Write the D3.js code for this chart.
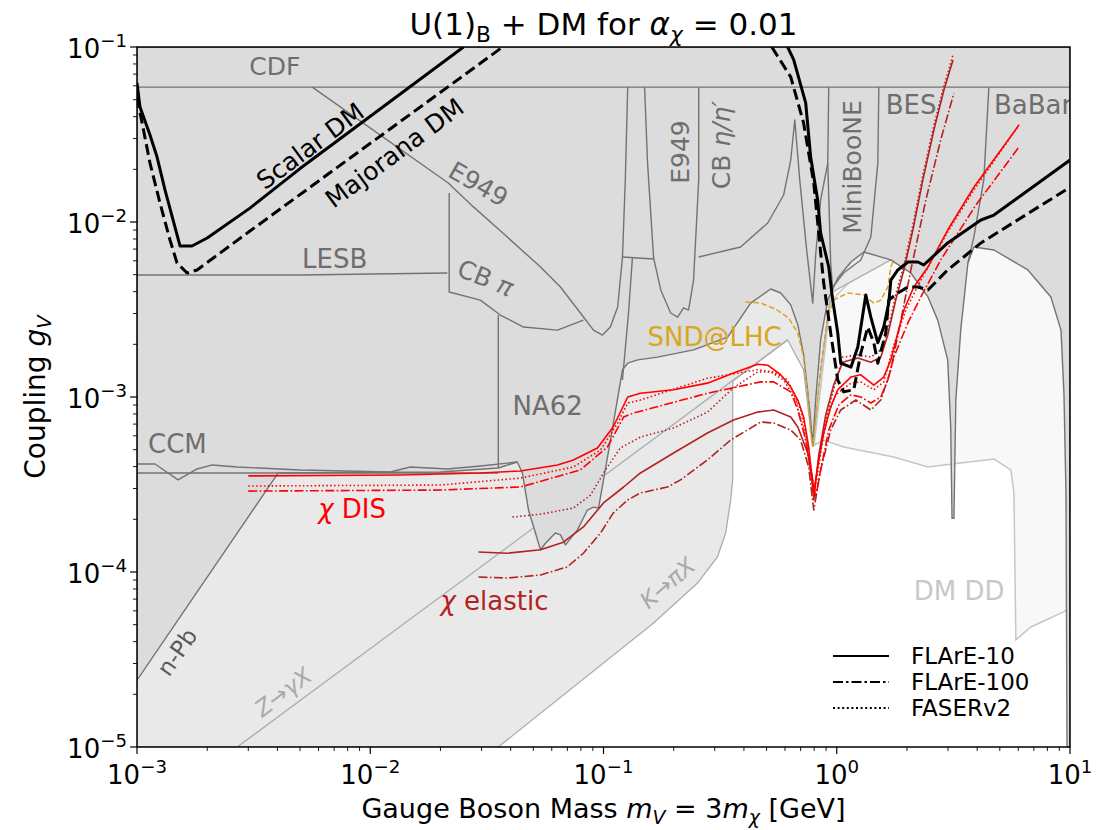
<!DOCTYPE html>
<html><head><meta charset="utf-8">
<script src="https://cdn.jsdelivr.net/npm/d3@7"></script>
<style>body{margin:0;background:#fff}text{font-family:"DejaVu Sans",sans-serif}</style>
</head><body>
<svg id="c" width="1096" height="830"></svg>
<script>
// ---------------- data (mass [GeV], coupling) ----------------
const xTickExps = [-3,-2,-1,0,1];
const yTickExps = [-5,-4,-3,-2,-1];
const legendNames = ["FLArE-10","FLArE-100","FASERv2"];

const darkRegion = [[1e-3,2.41e-5],[4.03e-3,3.68e-4],[2.0e-2,3.73e-4],[3.54e-2,3.93e-4],[4.27e-2,4.25e-4],[4.49e-2,3.68e-4],[4.77e-2,2.26e-4],[5.37e-2,1.34e-4],[5.64e-2,1.46e-4],[6.22e-2,1.67e-4],[6.54e-2,1.63e-4],[6.87e-2,1.43e-4],[7.73e-2,1.74e-4],[8.53e-2,2.26e-4],[9.06e-2,2.35e-4],[9.52e-2,2.32e-4],[0.1,3.36e-4],[0.109,6.48e-4],[0.1206,1.43e-3],[0.127,1.56e-3],[0.14,1.63e-3],[0.1706,1.69e-3],[0.2433,1.86e-3],[0.3405,2.2e-3],[0.4275,3.44e-3],[0.521,4.14e-3],[0.575,3.93e-3],[0.635,3.36e-3],[0.681,2.58e-3],[0.721,1.74e-3],[0.766,8.43e-4],[0.789,5.32e-4],[0.812,9.61e-4],[0.853,2.12e-3],[0.915,3.58e-3],[1.01,4.79e-3],[1.15,5.91e-3],[1.306,6.74e-3],[1.706,6.07e-3],[2.078,5.11e-3],[2.46,3.73e-3],[2.71,2.75e-3],[2.99,1.63e-3],[3.08,6.74e-4],[3.12,2.03e-4],[3.18,2.03e-4],[3.24,9.61e-4],[3.40,2.41e-3],[3.65,5.83e-3],[3.87,7.2e-3],[4.72,6.92e-3],[6.6,5.32e-3],[8.28,3.73e-3],[9.15,2.41e-3],[9.42,1.05e-3],[9.61,2.83e-4],[9.71,1e-5],[10,1e-5],[10,0.1],[1e-3,0.1]];

const lightRegion = [[1e-3,1e-5],[3.54e-2,1e-5],[0.164,5.11e-5],[0.253,8.65e-5],[0.308,1.22e-4],[0.334,1.67e-4],[0.351,2.58e-4],[0.358,3.36e-4],[0.358,1.23e-3],[0.616,2.12e-3],[0.721,1.43e-3],[0.773,6.48e-4],[0.789,5.18e-4],[0.837,1.1e-3],[0.942,3.93e-3],[1.706,6.07e-3],[1.706,0.1],[1e-3,0.1]];

const ddRegion = [[0.80,5.3e-4],[0.879,5.68e-4],[1.07,5.18e-4],[1.757,4.54e-4],[2.46,3.98e-4],[3.40,4.2e-4],[4.72,4.42e-4],[5.58,3.83e-4],[5.75,2.83e-4],[5.86,4.09e-5],[6.8,4.85e-5],[9.33,5.9e-5],[10,6.23e-5],[10,8e-3],[1.7,8e-3],[0.94,3.5e-3]];

const zLine = [[2.69e-3,1e-5],[0.616,2.12e-3]];

const cdfLine = [[1e-3,0.059],[10,0.059]];
const e949Diag = [[5.64e-3,0.059],[2.16e-2,0.0167],[2.77e-2,0.0122],[3.87e-2,8.2e-3],[5.37e-2,5.53e-3],[6.54e-2,4.25e-3],[7.96e-2,3.02e-3],[9.06e-2,2.41e-3],[9.9e-2,2.26e-3],[0.107,2.51e-3],[0.115,3.27e-3],[0.1206,6.31e-3],[0.124,0.0174],[0.127,0.059]];
const lesbLine = [[1e-3,4.98e-3],[5e-3,4.98e-3],[2.14e-2,5.11e-3]];
const cbPiLine = [[2.18e-2,0.01465],[2.18e-2,3.98e-3],[2.965e-2,3.58e-3],[3.61e-2,2.94e-3],[4.54e-2,2.51e-3],[6.35e-2,2.41e-3],[8.2e-2,2.75e-3]];
const na62Line = [[3.54e-2,2.94e-3],[3.54e-2,3.93e-4]];
const ccmWavy = [[1e-3,4.14e-4],[1.195e-3,4.14e-4],[1.5e-3,3.36e-4],[1.81e-3,3.88e-4],[2.1e-3,4.09e-4],[2.69e-3,3.98e-4],[5e-3,3.83e-4],[1.22e-2,3.73e-4],[1.485e-2,3.98e-4],[2.14e-2,3.88e-4],[2.965e-2,4.03e-4],[4.27e-2,4.25e-4]];
const ccmFlat = [[1e-3,3.68e-4],[3.54e-2,3.68e-4]];
const stripA = [[0.15,0.059],[0.1545,0.0217],[0.164,6.23e-3]];
const stripB = [[0.1206,6.31e-3],[0.164,6.15e-3]];
const stripC = [[0.133,6.23e-3],[0.128,3.02e-3],[0.1206,1.25e-3]];
const e949Big = [[0.164,6.23e-3],[0.176,4.09e-3],[0.194,3.02e-3],[0.2078,2.86e-3],[0.2205,3.23e-3],[0.2316,3.14e-3],[0.2433,4.66e-3],[0.256,0.0174],[0.256,0.059]];
const cbEtaLine = [[0.256,6.31e-3],[0.387,7.2e-3],[0.506,9.87e-3],[0.592,0.01427],[0.635,0.0226],[0.661,0.0383],[0.694,0.0174],[0.743,6.92e-3],[0.789,3.44e-3],[0.812,6.48e-3],[0.853,0.01336],[0.915,0.0217]];
const miniLeft = [[0.924,0.059],[0.915,0.0217],[0.942,5.83e-3],[0.961,4.09e-3]];
const miniRight = [[1.515,0.059],[1.5,0.0217],[1.40,8.2e-3],[1.268,6.07e-3],[1.07,5.11e-3],[0.942,4.09e-3]];
const besBabar = [[4.49,0.059],[4.27,0.0174],[3.87,8.2e-3],[3.65,5.83e-3]];

const scalarLeft = [[1e-3,0.0623],[1.03e-3,0.0454],[1.137e-3,0.0314],[1.219e-3,0.0235],[1.319e-3,0.0152],[1.53e-3,7.29e-3],[1.72e-3,7.29e-3],[2.0e-3,8.1e-3],[3.05e-3,0.012],[5e-3,0.0202],[1.345e-2,0.0539],[2.51e-2,0.1]];
const scalarRight = [[0.616,0.1],[0.654,0.0843],[0.736,0.0479],[0.773,0.0235],[0.828,0.01336],[0.853,8.65e-3],[0.924,5.53e-3],[0.961,3.58e-3],[1.01,2.32e-3],[1.04,1.56e-3],[1.15,1.48e-3],[1.231,1.93e-3],[1.332,3.83e-3],[1.40,2.86e-3],[1.50,2.04e-3],[1.59,2.51e-3],[1.671,3.44e-3],[1.706,4.66e-3],[1.828,5.32e-3],[2.018,5.91e-3],[2.228,5.91e-3],[2.36,5.68e-3],[2.99,7.59e-3],[4.15,0.01027],[4.72,0.01096],[10,0.0226]];
const majoranaLeft = [[1e-3,0.0518],[1.137e-3,0.0217],[1.255e-3,0.01284],[1.385e-3,7.89e-3],[1.485e-3,5.83e-3],[1.64e-3,5.11e-3],[1.81e-3,5.32e-3],[3.05e-3,8.88e-3],[8.2e-3,0.0232],[2.965e-2,0.0807],[3.69e-2,0.1]];
const majoranaRight = [[0.527,0.1],[0.5366,0.0961],[0.635,0.0674],[0.721,0.0368],[0.797,0.0167],[0.879,4.48e-3],[0.942,2.32e-3],[1.01,1.25e-3],[1.07,1.07e-3],[1.183,1.1e-3],[1.268,1.78e-3],[1.358,2.51e-3],[1.442,2.04e-3],[1.50,1.56e-3],[1.622,2.32e-3],[1.671,3.58e-3],[1.828,3.93e-3],[2.018,4.25e-3],[2.228,4.25e-3],[2.46,4.09e-3],[2.99,5.32e-3],[4.15,7.59e-3],[10,0.0158]];

const disSolid = [[3e-3,3.54e-4],[1.345e-2,3.58e-4],[2.965e-2,3.68e-4],[4.4e-2,3.78e-4],[6.35e-2,4.09e-4],[7.43e-2,4.37e-4],[9.42e-2,5.11e-4],[0.11,6.74e-4],[0.127,1.0e-3],[0.144,1.05e-3],[0.1997,1.1e-3],[0.279,1.2e-3],[0.361,1.37e-3],[0.458,1.54e-3],[0.506,1.52e-3],[0.575,1.34e-3],[0.635,1.14e-3],[0.681,9.61e-4],[0.721,7.69e-4],[0.758,5.18e-4],[0.797,2.83e-4],[0.828,3.98e-4],[0.879,6.23e-4],[0.942,8.77e-4],[1.01,1.1e-3],[1.15,1.3e-3],[1.268,1.34e-3],[1.442,1.17e-3],[1.59,1.3e-3],[1.706,1.63e-3],[1.828,2.32e-3],[1.94,3.14e-3],[2.14,4.25e-3],[2.46,5.53e-3],[2.99,9.0e-3],[3.87,0.0158],[6.04,0.0358]];
const disDotted = [[3e-3,3.1e-4],[2e-2,3.14e-4],[4.4e-2,3.44e-4],[7.43e-2,3.98e-4],[9.71e-2,4.98e-4],[0.115,7.1e-4],[0.127,9.24e-4],[0.144,9.61e-4],[0.279,1.28e-3],[0.458,1.43e-3],[0.5366,1.39e-3],[0.616,1.25e-3],[0.70,8.43e-4],[0.758,4.98e-4],[0.797,2.75e-4],[0.837,4.37e-4],[0.897,7.39e-4],[0.99,1.03e-3],[1.15,1.2e-3],[1.268,1.22e-3],[1.442,1.1e-3],[1.59,1.22e-3],[1.757,1.98e-3],[1.977,3.14e-3],[2.294,4.66e-3],[2.99,8.77e-3],[3.87,0.0152],[6.04,0.0358]];
const disDashDot = [[3e-3,2.9e-4],[2e-2,2.94e-4],[4.4e-2,3.06e-4],[7.96e-2,3.83e-4],[0.104,5.18e-4],[0.122,7.69e-4],[0.1345,8.1e-4],[0.279,1.05e-3],[0.472,1.22e-3],[0.5366,1.22e-3],[0.635,1.07e-3],[0.681,8.43e-4],[0.736,5.68e-4],[0.789,3.36e-4],[0.812,2.68e-4],[0.853,3.83e-4],[0.924,6.48e-4],[1.02,9.0e-4],[1.15,1.03e-3],[1.268,1.0e-3],[1.40,9.24e-4],[1.545,1.0e-3],[1.655,1.25e-3],[1.757,1.69e-3],[2.018,2.65e-3],[2.294,3.73e-3],[2.79,6.07e-3],[3.95,0.0125],[6.04,0.0268]];

const elSolid = [[2.91e-2,1.3e-4],[3.87e-2,1.28e-4],[5.37e-2,1.34e-4],[6.73e-2,1.48e-4],[8.2e-2,1.81e-4],[0.1,2.48e-4],[0.122,3.06e-4],[0.144,3.68e-4],[0.1997,4.79e-4],[0.279,6.23e-4],[0.361,7.39e-4],[0.458,8.2e-4],[0.5366,8.43e-4],[0.635,7.69e-4],[0.681,6.74e-4],[0.751,4.79e-4],[0.789,3.23e-4],[0.797,2.58e-4],[0.837,4.66e-4],[0.897,7.89e-4],[0.97,1.17e-3],[1.06,1.58e-3],[1.231,1.67e-3],[1.40,1.58e-3],[1.545,1.69e-3],[1.655,2.26e-3],[1.79,3.58e-3],[1.94,5.32e-3],[2.12,9.0e-3],[2.34,0.0174],[2.61,0.0336],[2.88,0.0568],[3.15,0.0843]];
const elDotted = [[4.07e-2,2.06e-4],[5.37e-2,2.14e-4],[7.43e-2,2.32e-4],[8.79e-2,2.75e-4],[0.102,3.83e-4],[0.118,5.11e-4],[0.144,5.9e-4],[0.1997,6.65e-4],[0.279,8.2e-4],[0.361,1.13e-3],[0.458,1.39e-3],[0.521,1.39e-3],[0.592,1.25e-3],[0.667,9.61e-4],[0.736,5.68e-4],[0.789,2.94e-4],[0.82,3.36e-4],[0.871,5.68e-4],[0.942,9.61e-4],[1.06,1.69e-3],[1.231,1.74e-3],[1.40,1.69e-3],[1.545,1.86e-3],[1.655,2.41e-3],[1.79,3.83e-3],[1.94,5.68e-3],[2.12,9.61e-3],[2.34,0.0186],[2.61,0.0358],[2.88,0.06],[3.15,0.09]];
const elDashDot = [[2.91e-2,9.36e-5],[3.87e-2,9.24e-5],[5.37e-2,9.61e-5],[7.0e-2,1.07e-4],[8.2e-2,1.28e-4],[9.71e-2,1.67e-4],[0.11,2.17e-4],[0.127,2.58e-4],[0.144,2.83e-4],[0.188,3.06e-4],[0.214,3.36e-4],[0.279,4.37e-4],[0.351,5.68e-4],[0.472,7.2e-4],[0.5366,7.1e-4],[0.635,6.48e-4],[0.70,5.68e-4],[0.758,3.98e-4],[0.797,2.26e-4],[0.853,3.83e-4],[0.942,6.48e-4],[1.04,8.43e-4],[1.207,9.61e-4],[1.40,8.43e-4],[1.545,9.61e-4],[1.706,1.43e-3],[1.883,2.75e-3],[2.078,5.32e-3],[2.41,0.01336],[2.79,0.0294],[3.18,0.0546]];

const sndLine = [[0.4066,3.49e-3],[0.472,3.44e-3],[0.547,3.18e-3],[0.622,2.83e-3],[0.681,2.32e-3],[0.721,1.69e-3],[0.751,1.05e-3],[0.773,6.23e-4],[0.789,5.18e-4],[0.812,7.39e-4],[0.853,1.48e-3],[0.915,2.86e-3],[0.97,3.58e-3],[1.115,3.93e-3],[1.306,3.83e-3],[1.442,3.44e-3],[1.545,3.58e-3],[1.655,4.25e-3],[1.706,5.53e-3],[1.757,6.07e-3]];

// ---------------- drawing ----------------
const L=137,R=1070,T=47,B=747;
const x = d3.scaleLog().domain([1e-3,10]).range([L,R]);
const y = d3.scaleLog().domain([1e-5,0.1]).range([B,T]);
const svg = d3.select('#c');
svg.append('rect').attr('width',1096).attr('height',830).attr('fill','#fff');
svg.append('defs').append('clipPath').attr('id','clip').append('rect')
  .attr('x',L).attr('y',T).attr('width',R-L).attr('height',B-T);
const g = svg.append('g').attr('clip-path','url(#clip)');
const line = d3.line().x(d=>x(d[0])).y(d=>y(d[1]));

const DARK='#dcdcdc', EDGE='#737373';
g.append('path').attr('d',line(ddRegion)+'Z').attr('fill','#f8f8f8').attr('stroke','#c6c6c6').attr('stroke-width',1.5);
g.append('path').attr('d',line(lightRegion)+'Z').attr('fill','#e9e9e9').attr('stroke','#adadad').attr('stroke-width',1.3);
g.append('path').attr('d',line(zLine)).attr('fill','none').attr('stroke','#adadad').attr('stroke-width',1.3);
g.append('path').attr('d',line(darkRegion)+'Z').attr('fill',DARK).attr('stroke',EDGE).attr('stroke-width',1.4).attr('stroke-linejoin','round');
[cdfLine,e949Diag,lesbLine,cbPiLine,na62Line,ccmWavy,ccmFlat,stripA,stripB,stripC,e949Big,cbEtaLine,miniLeft,miniRight,besBabar].forEach(d=>{
  g.append('path').attr('d',line(d)).attr('fill','none').attr('stroke',EDGE).attr('stroke-width',1.4).attr('stroke-linejoin','round');
});

// SND@LHC
g.append('path').attr('d',line(sndLine)).attr('fill','none').attr('stroke','#daa520').attr('stroke-width',1.5).attr('stroke-dasharray','5.5,2.5');

// sensitivity curves
const DOT='1.5,2.4', DASHDOT='9,2.4,1.6,2.4';
function curve(d,col,dash,w){
  const p=g.append('path').attr('d',line(d)).attr('fill','none').attr('stroke',col).attr('stroke-width',w||1.6).attr('stroke-linejoin','round');
  if(dash) p.attr('stroke-dasharray',dash);
}
curve(elSolid,'#b22222'); curve(elDotted,'#b22222',DOT); curve(elDashDot,'#b22222',DASHDOT);
curve(disSolid,'#ff0000'); curve(disDotted,'#ff0000',DOT); curve(disDashDot,'#ff0000',DASHDOT);
curve(scalarLeft,'#000',null,3); curve(scalarRight,'#000',null,3);
curve(majoranaLeft,'#000','11,5',3); curve(majoranaRight,'#000','11,5',3);

// rich text helper
function rich(t, parts, base){
  let off=0;
  parts.forEach(p=>{
    const ts=t.append('tspan').text(p.t);
    const target = p.sub? base*0.22 : p.sup? -base*0.42 : 0;
    if(target-off!==0) ts.attr('dy', target-off);
    off=target;
    if(p.sub||p.sup) ts.attr('font-size', base*0.7);
    if(p.it) ts.attr('font-style','italic');
  });
  return t;
}
const labels = svg.append('g').attr('clip-path','url(#clip)');
function label(m,c,parts,opt){
  const fs=opt.fs||26;
  const t=labels.append('text').attr('font-size',fs).attr('fill',opt.col||'#6e6e6e')
    .attr('text-anchor',opt.anchor||'start');
  const px=x(m), py=y(c);
  if(opt.rot!==undefined){
    t.attr('transform',`translate(${px},${py}) rotate(${opt.rot})`).attr('dy','0.35em');
  } else { t.attr('x',px).attr('y',py); }
  rich(t,parts,fs);
  return t;
}
label(3.03e-3,0.0692,[{t:'CDF'}],{fs:25});
label(5.1e-3,5.46e-3,[{t:'LESB'}],{});
label(1.115e-3,4.79e-4,[{t:'CCM'}],{});
label(4.07e-2,7.89e-4,[{t:'NA62'}],{});
label(1.622,0.0414,[{t:'BES'}],{});
label(4.72,0.0414,[{t:'BaBar'}],{});
label(2.91e-2,0.01648,[{t:'E949'}],{rot:30,anchor:'middle',fs:25});
label(3.12e-2,4.79e-3,[{t:'CB '},{t:'π',it:true}],{rot:22,anchor:'middle',fs:25});
label(0.214,0.0251,[{t:'E949'}],{rot:-90,anchor:'middle',fs:25});
label(0.3206,0.0275,[{t:'CB '},{t:'η/η′',it:true}],{rot:-90,anchor:'middle',fs:25});
label(1.171,0.0206,[{t:'MiniBooNE'}],{rot:-90,anchor:'middle',fs:25});
label(0.2995,1.96e-3,[{t:'SND@LHC'}],{anchor:'middle',col:'#daa520'});
label(5.53e-3,0.0272,[{t:'Scalar DM'}],{rot:-36.5,anchor:'middle',col:'#000',fs:25});
label(1.27e-2,0.0248,[{t:'Majorana DM'}],{rot:-36.5,anchor:'middle',col:'#000',fs:25});
label(5.98e-3,2.04e-4,[{t:'χ',it:true},{t:' DIS'}],{col:'#ff0000'});
label(2.0e-2,6.07e-5,[{t:'χ',it:true},{t:' elastic'}],{col:'#b22222'});
label(0.188,8.65e-5,[{t:'K',it:true},{t:'→'},{t:'πX',it:true}],{rot:-41,anchor:'middle',col:'#a9a9a9',fs:23});
label(4.23e-3,2.06e-5,[{t:'Z',it:true},{t:'→'},{t:'γX',it:true}],{rot:-37,anchor:'middle',col:'#a9a9a9',fs:23});
label(1.485e-3,3.49e-5,[{t:'n-Pb'}],{rot:-55,anchor:'middle',col:'#5a5a5a',fs:23});
label(2.14,6.92e-5,[{t:'DM DD'}],{col:'#c8c8c8'});

// frame
svg.append('rect').attr('x',L).attr('y',T).attr('width',R-L).attr('height',B-T)
  .attr('fill','none').attr('stroke','#000').attr('stroke-width',1.5);

// axes ticks
const TF=26;
const ax=svg.append('g').attr('stroke','#000').attr('stroke-width',1.2);
xTickExps.forEach((e,i)=>{
  const v=Math.pow(10,e);
  ax.append('line').attr('x1',x(v)).attr('x2',x(v)).attr('y1',B).attr('y2',B+7);
  if(i<xTickExps.length-1) for(let k=2;k<10;k++){
    ax.append('line').attr('x1',x(k*v)).attr('x2',x(k*v)).attr('y1',B).attr('y2',B+4).attr('stroke-width',0.9);
  }
  const t=svg.append('text').attr('x',x(v)).attr('y',B+37).attr('font-size',TF).attr('text-anchor','middle');
  rich(t,[{t:'10'},{t:(e<0?'−':'')+Math.abs(e),sup:true}],TF);
});
yTickExps.forEach((e,i)=>{
  const v=Math.pow(10,e);
  ax.append('line').attr('x1',L-7).attr('x2',L).attr('y1',y(v)).attr('y2',y(v));
  if(i<yTickExps.length-1) for(let k=2;k<10;k++){
    ax.append('line').attr('x1',L-4).attr('x2',L).attr('y1',y(k*v)).attr('y2',y(k*v)).attr('stroke-width',0.9);
  }
  const t=svg.append('text').attr('x',L-10).attr('y',y(v)+11).attr('font-size',TF).attr('text-anchor','end');
  rich(t,[{t:'10'},{t:(e<0?'−':'')+Math.abs(e),sup:true}],TF);
});

// axis titles & title
rich(svg.append('text').attr('x',(L+R)/2).attr('y',818).attr('font-size',27).attr('text-anchor','middle'),
  [{t:'Gauge Boson Mass '},{t:'m',it:true},{t:'V',sub:true,it:true},{t:' = 3'},{t:'m',it:true},{t:'χ',sub:true,it:true},{t:' [GeV]'}],27);
rich(svg.append('text').attr('transform',`translate(45,${(T+B)/2}) rotate(-90)`).attr('font-size',28).attr('text-anchor','middle'),
  [{t:'Coupling '},{t:'g',it:true},{t:'V',sub:true,it:true}],28);
rich(svg.append('text').attr('x',(L+R)/2).attr('y',35).attr('font-size',31).attr('text-anchor','middle'),
  [{t:'U(1)'},{t:'B',sub:true},{t:' + DM for '},{t:'α',it:true},{t:'χ',sub:true,it:true},{t:' = 0.01'}],31);

// legend
const legDash=[null,'10,3,2.5,3','2,2.6'];
legendNames.forEach((n,i)=>{
  const ly=656+i*26;
  const l=svg.append('line').attr('x1',833).attr('x2',889).attr('y1',ly).attr('y2',ly).attr('stroke','#000').attr('stroke-width',2.2);
  if(legDash[i]) l.attr('stroke-dasharray',legDash[i]);
  svg.append('text').attr('x',911).attr('y',ly+8).attr('font-size',23).text(n);
});
</script>
</body></html>
